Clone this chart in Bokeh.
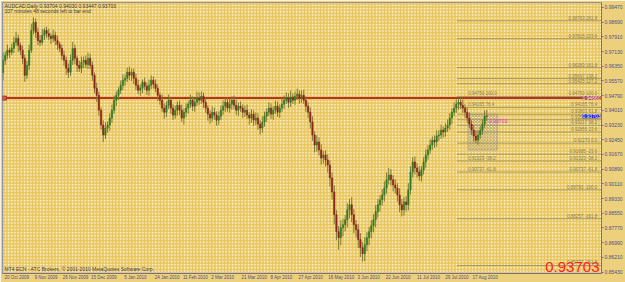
import pandas as pd
from bokeh.plotting import figure
from bokeh.models import ColumnDataSource, FixedTicker, Range1d, Label, BoxAnnotation
from bokeh.embed import file_html
from bokeh.resources import INLINE
from bokeh.core.properties import value

# ---------------- data ----------------
symbol = "AUDCAD,Daily"
last_ohlc = [0.93704, 0.94030, 0.93447, 0.93703]
first_open = 0.9600

closes = [
    0.9667, 0.9693, 0.9720, 0.9709, 0.9730, 0.9762, 0.9783, 0.9746, 0.9720, 0.9677,
    0.9587, 0.9640, 0.9720, 0.9825, 0.9868, 0.9815, 0.9772, 0.9762, 0.9799, 0.9825,
    0.9809, 0.9794, 0.9783, 0.9799, 0.9772, 0.9751, 0.9730, 0.9693, 0.9667, 0.9624,
    0.9603, 0.9667, 0.9730, 0.9677, 0.9640, 0.9624, 0.9656, 0.9667, 0.9645, 0.9677,
    0.9640, 0.9587, 0.9518, 0.9481, 0.9402, 0.9323, 0.9270, 0.9307, 0.9323, 0.9360,
    0.9402, 0.9455, 0.9481, 0.9508, 0.9534, 0.9561, 0.9571, 0.9603, 0.9587, 0.9603,
    0.9571, 0.9534, 0.9508, 0.9518, 0.9550, 0.9529, 0.9508, 0.9534, 0.9561, 0.9540,
    0.9518, 0.9481, 0.9455, 0.9413, 0.9391, 0.9428, 0.9455, 0.9413, 0.9376, 0.9402,
    0.9428, 0.9402, 0.9360, 0.9391, 0.9413, 0.9434, 0.9455, 0.9423, 0.9444, 0.9466,
    0.9455, 0.9476, 0.9444, 0.9413, 0.9381, 0.9360, 0.9391, 0.9376, 0.9349, 0.9370,
    0.9402, 0.9423, 0.9444, 0.9413, 0.9434, 0.9455, 0.9428, 0.9402, 0.9423, 0.9413,
    0.9391, 0.9402, 0.9376, 0.9360, 0.9381, 0.9349, 0.9360, 0.9328, 0.9307, 0.9339,
    0.9370, 0.9391, 0.9413, 0.9381, 0.9402, 0.9423, 0.9391, 0.9413, 0.9434, 0.9455,
    0.9466, 0.9444, 0.9471, 0.9455, 0.9476, 0.9487, 0.9466, 0.9481, 0.9455, 0.9423,
    0.9391, 0.9339, 0.9270, 0.9217, 0.9233, 0.9191, 0.9148, 0.9164, 0.9138, 0.9111,
    0.9042, 0.8968, 0.8847, 0.8757, 0.8725, 0.8778, 0.8794, 0.8820, 0.8873, 0.8900,
    0.8847, 0.8794, 0.8767, 0.8715, 0.8672, 0.8640, 0.8688, 0.8725, 0.8757, 0.8788,
    0.8820, 0.8863, 0.8900, 0.8926, 0.8952, 0.8989, 0.9032, 0.9058, 0.9032, 0.9005,
    0.8989, 0.8952, 0.8900, 0.8873, 0.8915, 0.8900, 0.8979, 0.9074, 0.9127, 0.9095,
    0.9074, 0.9053, 0.9085, 0.9127, 0.9164, 0.9191, 0.9217, 0.9243, 0.9233, 0.9265,
    0.9270, 0.9296, 0.9286, 0.9307, 0.9323, 0.9360, 0.9391, 0.9413, 0.9434, 0.9444,
    0.9428, 0.9413, 0.9391, 0.9360, 0.9328, 0.9296, 0.9265, 0.9243, 0.9270, 0.9296,
    0.9328, 0.93704, 0.93703,
]
# shadows above / below the body, in pips
upper_pips = [
    40, 20, 30, 15, 25, 30, 35, 20, 15, 25,
    20, 25, 30, 35, 26, 20, 25, 30, 35, 15,
    20, 25, 15, 30, 20, 25, 15, 20, 25, 20,
    25, 30, 35, 20, 15, 25, 30, 20, 25, 30,
    25, 20, 15, 30, 20, 15, 25, 30, 20, 25,
    30, 25, 20, 15, 25, 30, 20, 25, 30, 20,
    20, 25, 30, 20, 15, 25, 20, 30, 25, 20,
    25, 20, 15, 30, 25, 20, 30, 15, 20, 25,
    20, 25, 30, 20, 25, 15, 30, 20, 25, 35,
    30, 25, 20, 25, 15, 20, 30, 25, 20, 25,
    25, 30, 20, 25, 30, 20, 25, 30, 20, 25,
    20, 25, 30, 15, 25, 20, 30, 25, 20, 30,
    25, 20, 30, 25, 20, 30, 25, 20, 30, 25,
    30, 25, 35, 20, 25, 30, 20, 25, 30, 20,
    20, 25, 30, 20, 35, 25, 30, 20, 25, 30,
    25, 30, 35, 25, 30, 40, 30, 25, 35, 30,
    40, 30, 25, 30, 35, 30, 40, 30, 25, 30,
    30, 35, 30, 25, 30, 35, 40, 37, 30, 25,
    30, 25, 35, 30, 25, 30, 35, 30, 25, 30,
    25, 30, 20, 25, 30, 25, 30, 20, 25, 30,
    25, 30, 20, 25, 30, 25, 20, 30, 25, 22,
    25, 30, 20, 25, 30, 20, 25, 30, 25, 20,
    25, 30, 33,
]
lower_pips = [
    40, 25, 20, 30, 15, 25, 20, 35, 25, 30,
    35, 20, 25, 15, 20, 30, 25, 20, 15, 25,
    25, 20, 30, 20, 25, 30, 20, 25, 30, 35,
    30, 20, 25, 30, 35, 20, 25, 30, 20, 25,
    20, 30, 25, 35, 30, 25, 37, 20, 25, 30,
    25, 20, 30, 25, 20, 25, 30, 20, 25, 30,
    30, 25, 20, 30, 25, 20, 25, 30, 20, 25,
    20, 30, 25, 20, 35, 25, 20, 30, 25, 20,
    30, 25, 20, 35, 25, 30, 20, 25, 30, 20,
    25, 20, 30, 25, 35, 30, 20, 25, 30, 25,
    20, 25, 30, 20, 25, 30, 20, 25, 30, 20,
    30, 25, 20, 35, 25, 30, 25, 30, 35, 25,
    25, 30, 20, 25, 30, 20, 25, 30, 20, 25,
    20, 30, 25, 20, 25, 20, 30, 25, 20, 30,
    30, 35, 30, 40, 35, 30, 35, 30, 35, 40,
    45, 40, 50, 45, 63, 40, 45, 35, 40, 45,
    40, 45, 40, 45, 50, 42, 40, 35, 40, 35,
    35, 40, 30, 35, 30, 35, 30, 25, 30, 35,
    30, 35, 40, 35, 30, 35, 30, 25, 30, 35,
    30, 25, 30, 25, 30, 25, 20, 25, 30, 25,
    25, 20, 30, 25, 20, 25, 30, 20, 25, 30,
    20, 25, 30, 25, 20, 25, 30, 16, 25, 20,
    25, 20, 26,
]
date_labels = ["20 Oct 2009", "9 Nov 2009", "26 Nov 2009", "15 Dec 2009", "5 Jan 2010",
               "24 Jan 2010", "11 Feb 2010", "2 Mar 2010", "21 Mar 2010", "8 Apr 2010",
               "27 Apr 2010", "16 May 2010", "3 Jun 2010", "22 Jun 2010", "11 Jul 2010",
               "29 Jul 2010", "17 Aug 2010"]
price_ticks = [0.99470, 0.98690, 0.97910, 0.97130, 0.96350, 0.95570, 0.94790, 0.94010,
               0.93230, 0.92450, 0.91670, 0.90890, 0.90110, 0.89330, 0.88550, 0.87770,
               0.86990, 0.86210, 0.85430]
hline_price = 0.94660
fib_high = 0.9475
fib_low = 0.9227
fib_levels = [261.8, 223.6, 161.8, 138.2, 127.2, 100.0, 76.4, 61.8, 50.0, 38.2, 23.6,
              0.0, -23.6, -38.2, -61.8, -100.0, -161.8, -261.8]
fib_left_levels = [100.0, 76.4, -38.2, -61.8]
info_line = "107 minutes 48 seconds left to bar end"
copyright_line = "MT4 ECN - ATC Brokers, \u00a9 2001-2010 MetaQuotes Software Corp."

# ---------------- build ----------------
n = len(closes)
dates = pd.bdate_range("2009-10-20", periods=n)
opens = [first_open] + closes[:-1]
opens[-1] = last_ohlc[0]
highs = [max(o, c) + u / 10000 for o, c, u in zip(opens, closes, upper_pips)]
lows = [min(o, c) - d / 10000 for o, c, d in zip(opens, closes, lower_pips)]
highs[-1], lows[-1] = last_ohlc[1], last_ohlc[2]
idx = list(range(n))
up = [c >= o for o, c in zip(opens, closes)]

src = ColumnDataSource(dict(
    x=idx, o=opens, c=closes, h=highs, l=lows,
    top=[max(o, c) for o, c in zip(opens, closes)],
    bot=[min(o, c) for o, c in zip(opens, closes)],
    col=["#2E7D2A" if u else "#8E2323" for u in up],
))

# layout constants (pixels of the reference)
BAR_PX = 2.172
PPX = 0.0078 / 14.75
TOP_PRICE = price_ticks[0] + 5 * PPX
BOT_PRICE = price_ticks[0] - 267 * PPX
FONT = "Liberation Sans"


def xi(px):
    return (px - 2.5) / BAR_PX


def yp(py):
    return TOP_PRICE - (py - 2) * PPX


p = figure(width=625, height=282, output_backend="svg", toolbar_location=None,
           x_range=Range1d(xi(2), xi(599)), y_range=Range1d(BOT_PRICE, TOP_PRICE),
           y_axis_location="right", min_border_left=2, min_border_top=2,
           min_border_right=0, min_border_bottom=0)
p.background_fill_color = "#E9C760"
p.border_fill_color = "#EDD07C"
p.outline_line_color = "#8C8CA0"
p.grid.visible = False

p.add_layout(BoxAnnotation(fill_alpha=0, line_alpha=0, hatch_pattern="dot",
                           hatch_color="white", hatch_alpha=0.9, hatch_scale=3.2,
                           hatch_weight=1, level="underlay"))

# fibonacci levels
fib_x0 = xi(455)
fib_x1 = xi(612)
fib_prices = [fib_low + (fib_high - fib_low) * lv / 100 for lv in fib_levels]
p.segment(x0=[fib_x0] * len(fib_prices), x1=[fib_x1] * len(fib_prices),
          y0=fib_prices, y1=fib_prices, line_color="#A89A5C", line_width=1)
p.text(x=[xi(596)] * len(fib_prices), y=fib_prices,
       text=[f"{fp:.5f}  {lv:.1f}" for fp, lv in zip(fib_prices, fib_levels)],
       text_font=value(FONT), text_font_size="4.5px",
       text_color="#8A8050", text_align="right", text_baseline="bottom")
left_prices = [fib_low + (fib_high - fib_low) * lv / 100 for lv in fib_left_levels]
p.text(x=[xi(466)] * len(left_prices), y=left_prices,
       text=[f"{fp:.5f}  {lv:.1f}" for fp, lv in zip(left_prices, fib_left_levels)],
       text_font=value(FONT), text_font_size="4.5px",
       text_color="#8A8050", text_align="left", text_baseline="bottom")

# grey hatched object
p.quad(left=[xi(466)], right=[xi(495)], top=[yp(114)], bottom=[yp(150)],
       fill_alpha=0, line_color="#9A9A9A", line_alpha=0.7,
       hatch_pattern="diagonal_cross", hatch_color="#8A8A8A", hatch_alpha=0.6,
       hatch_scale=3, hatch_weight=0.7)

# horizontal red line
p.segment(x0=[xi(2)], x1=[xi(612)], y0=[hline_price], y1=[hline_price],
          line_color="#B0352A", line_width=2)
p.scatter(x=[xi(4)], y=[hline_price], marker="square", size=4,
          fill_color="#D06050", line_color="#B0352A")

# candles
p.segment(x0="x", x1="x", y0="l", y1="h", source=src, line_color="#7E7A2E",
          line_width=1)
p.vbar(x="x", width=0.6, top="top", bottom="bot", source=src,
       fill_color="col", line_color="col", line_width=0.6)

# axes
xa = p.xaxis[0]
tick_pos = [int(dates.searchsorted(pd.Timestamp(d))) for d in date_labels]
# MT4 prints each date to the right of its bar; place label centres accordingly
label_pos = [t + (1.5 + len(lab) * 1.1) / BAR_PX for t, lab in zip(tick_pos, date_labels)]
xa.ticker = FixedTicker(ticks=label_pos)
xa.major_label_overrides = {t: lab for t, lab in zip(label_pos, date_labels)}
ya = p.yaxis[0]
ya.ticker = FixedTicker(ticks=price_ticks)
ya.major_label_overrides = {t: f"{t:.5f}" for t in price_ticks}
for ax in (xa, ya):
    ax.minor_tick_line_color = None
    ax.major_label_text_font = FONT
    ax.major_label_text_color = "#4E4E84"
    ax.axis_line_color = "#7070A0"
    ax.major_tick_line_color = "#7070A0"
    ax.major_tick_out = 2
    ax.major_tick_in = 0
    ax.major_label_standoff = 1
xa.major_label_text_font_size = "4.5px"
ya.major_label_text_font_size = "5px"
xa.major_tick_out = 0

# texts
title = f"{symbol}  " + " ".join(f"{v:.5f}" for v in last_ohlc)
for txt, py in ((title, 2), (info_line, 8)):
    p.add_layout(Label(x=xi(4), y=yp(py), text=txt, text_font=FONT,
                       text_font_size="5px", text_color="#3A3A3A",
                       text_baseline="top"))
p.add_layout(Label(x=xi(4), y=yp(272), text=copyright_line, text_font=FONT,
                   text_font_size="5px", text_color="#3A3A5A", text_baseline="bottom"))
p.add_layout(Label(x=xi(597), y=yp(272), text=f"{last_ohlc[3]:.5f}",
                   text_font=FONT, text_font_size="15px",
                   text_color="#FF2222", text_align="right", text_baseline="bottom"))
p.add_layout(Label(x=xi(487), y=yp(121), text=f"{last_ohlc[3]:.5f}",
                   text_font=FONT, text_font_size="5px",
                   text_color="#E030E0", text_baseline="middle"))
# price tags at the right edge of the chart area
for pr, col in ((hline_price, "#B0352A"), (last_ohlc[3], "#1515C8")):
    p.add_layout(Label(x=xi(598), y=pr, text=f"{pr:.5f}", text_font=FONT,
                       text_font_size="5px", text_color="white", text_align="right",
                       background_fill_color=col, text_baseline="middle"))

open("out.html", "w").write(file_html(p, INLINE))
